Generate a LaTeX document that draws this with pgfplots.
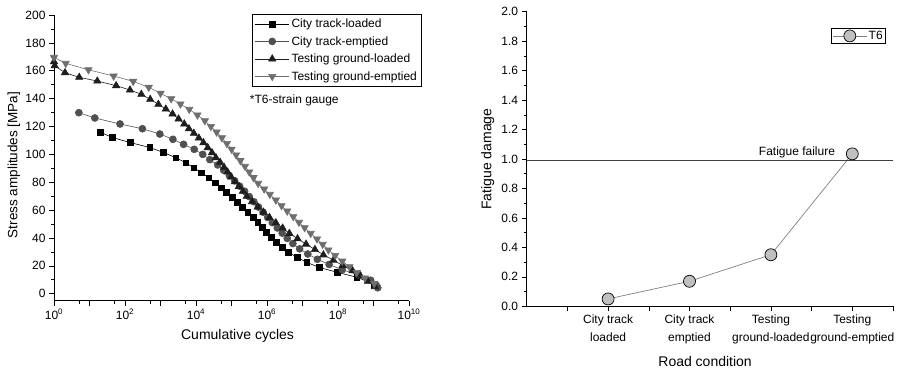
\documentclass[border=0pt]{standalone}
\usepackage{fontspec}
\setmainfont{Liberation Sans}
\usepackage{pgfplots}
\usepackage{pgfplotstable}
\pgfplotsset{compat=1.18}
\definecolor{cgray}{HTML}{505050}
\definecolor{tdark}{HTML}{1E1E1E}
\definecolor{tgray}{HTML}{6E6E6E}
\definecolor{mfill}{HTML}{C0C0C0}
\definecolor{lgray}{HTML}{808080}

% log10(cumulative cycles), stress amplitude [MPa]
\pgfplotstableread{
lx S
1.315 115.8
1.634 112.2
2.14 108.5
2.70 104.9
3.09 101.3
3.43 97.6
3.71 94.0
3.94 90.4
4.15 86.8
4.36 83.2
4.54 79.6
4.71 76.0
4.86 72.5
5.02 69.0
5.17 65.4
5.31 61.8
5.46 58.2
5.61 54.7
5.74 51.1
5.87 47.5
5.99 44.0
6.13 40.4
6.26 36.8
6.42 33.2
6.61 29.7
6.85 26.1
7.12 22.5
7.47 18.9
7.99 15.3
8.53 11.8
9.01 7.0
}\ctloaded
\pgfplotstableread{
lx S
0.70 129.9
1.15 126.1
1.86 121.8
2.49 118.4
2.98 114.6
3.35 110.8
3.65 107.2
3.95 103.6
4.19 100.0
4.39 96.2
4.61 92.4
4.78 88.6
4.94 84.7
5.09 81.0
5.23 77.2
5.37 73.5
5.50 69.7
5.63 66.0
5.76 62.2
5.89 58.5
6.02 54.7
6.15 51.0
6.29 47.2
6.43 43.5
6.57 39.7
6.73 36.0
6.92 32.2
7.15 28.5
7.42 24.7
7.75 21.0
8.12 17.2
8.58 13.5
8.92 9.7
9.08 6.0
9.12 4.3
}\ctemptied
\pgfplotstableread{
lx S
0.00 166.5
0.02 163.6
0.31 158.6
0.71 155.3
1.22 152.6
1.75 149.3
2.14 146.2
2.46 143.1
2.71 139.5
2.94 135.9
3.15 132.5
3.34 129.0
3.51 125.4
3.67 121.8
3.80 118.4
3.94 115.1
4.08 111.7
4.21 108.4
4.33 104.8
4.45 101.2
4.56 97.6
4.68 94.3
4.79 90.7
4.89 87.3
4.99 83.7
5.10 80.4
5.21 77.0
5.32 73.5
5.43 69.9
5.58 66.1
5.74 62.3
5.90 58.5
6.07 54.7
6.25 50.9
6.44 47.1
6.63 43.3
6.86 39.5
7.10 35.6
7.35 31.7
7.59 27.9
7.87 24.1
8.13 20.3
8.41 16.5
8.63 12.7
8.84 8.9
9.04 5.1
}\tgloaded
\pgfplotstableread{
lx S
0.00 169.6
0.33 165.3
0.97 160.7
1.68 156.2
2.23 152.4
2.67 148.1
3.00 143.8
3.30 139.9
3.56 136.1
3.81 132.3
4.04 128.2
4.25 124.1
4.42 120.0
4.58 116.0
4.73 111.9
4.87 107.8
5.00 103.7
5.13 99.6
5.25 95.5
5.38 91.4
5.50 87.4
5.62 83.3
5.75 79.2
5.92 75.1
6.08 71.3
6.25 67.2
6.41 63.2
6.57 59.3
6.74 55.3
6.90 51.2
7.06 47.4
7.23 43.3
7.41 39.3
7.57 35.4
7.73 31.4
7.92 27.5
8.12 23.4
8.32 19.4
8.53 15.3
8.76 11.3
9.02 7.3
}\tgemptied

\begin{document}
\begin{tikzpicture}
\path[use as bounding box] (0pt,0pt) rectangle (903pt,373pt);
\pgfplotsset{
 common/.style={
   scale only axis, axis lines=left,
   axis line style={-, line width=0.7pt},
   tick align=outside, major tick length=5pt, minor tick length=3pt,
   tick style={black, line width=0.6pt},
   tick label style={font=\fontsize{12}{14}\selectfont},
   /pgf/number format/assume math mode=true,
   clip=false,
   legend image code/.code={\draw[mark repeat=2,mark phase=2] plot coordinates {(0pt,0pt)(17pt,0pt)(34pt,0pt)};},
 },
}
\begin{axis}[common,
  at={(54pt,72.3pt)}, anchor=south west, width=355pt, height=285.7pt,
  xmin=0, xmax=10, ymin=-5, ymax=200,
  xtick={0,1,2,3,4,5,6,7,8,9,10},
  xticklabels={10\textsuperscript{0},,10\textsuperscript{2},,10\textsuperscript{4},,10\textsuperscript{6},,10\textsuperscript{8},,10\textsuperscript{10}},
  minor xtick={0.699,1.699,2.699,3.699,4.699,5.699,6.699,7.699,8.699,9.699},
  ytick={0,20,...,200}, minor ytick={10,30,...,190},
  xlabel={Cumulative cycles}, ylabel={Stress amplitudes [MPa]},
  every axis x label/.style={at={(axis description cs:0.517,-0.124)}, anchor=center, font=\fontsize{14}{16}\selectfont},
  every axis y label/.style={at={(axis description cs:-0.113,0.475)}, rotate=90, anchor=center, font=\fontsize{13.5}{16}\selectfont},
  legend style={at={(1.036,1.0035)}, anchor=north east, draw=black, line width=0.7pt,
     font=\fontsize{12}{14}\selectfont, cells={anchor=west}, row sep=3.3pt, inner sep=2.5pt},
]
\addplot[black, line width=0.6pt, mark=square*, mark size=2.9pt, mark options={fill=black}] table[x=lx,y=S] {\ctloaded};
\addlegendentry{City track-loaded}
\addplot[cgray, line width=0.6pt, mark=*, mark size=3.5pt, mark options={fill=cgray, draw=cgray}] table[x=lx,y=S] {\ctemptied};
\addlegendentry{City track-emptied}
\addplot[tdark, line width=0.6pt, mark=triangle*, mark size=4.2pt, mark options={fill=tdark, draw=tdark}] table[x=lx,y=S] {\tgloaded};
\addlegendentry{Testing ground-loaded}
\addplot[tgray, line width=0.6pt, mark=triangle*, mark size=4.2pt, mark options={fill=tgray, draw=tgray, rotate=180}] table[x=lx,y=S] {\tgemptied};
\addlegendentry{Testing ground-emptied}
\node[font=\fontsize{12}{14}\selectfont] at (axis description cs:0.677,0.700) {*T6-strain gauge};
\end{axis}

\begin{axis}[common,
  at={(526.7pt,66.7pt)}, anchor=south west, width=366.3pt, height=294.6pt,
  xmin=0, xmax=4.5, ymin=0, ymax=2.0,
  xtick={0.5,1,1.5,2,2.5,3,3.5,4,4.5},
  xticklabels={,{City track\\loaded},,{City track\\emptied},,{Testing\\ground-loaded},,{Testing\\ground-emptied},},
  xticklabel style={align=center, font=\fontsize{12}{18}\selectfont},
  ytick={0,0.2,...,2.01}, minor ytick={0.1,0.3,...,1.95},
  yticklabel style={/pgf/number format/.cd, fixed, fixed zerofill, precision=1},
  xlabel={Road condition}, ylabel={Fatigue damage},
  every axis x label/.style={at={(axis description cs:0.487,-0.188)}, anchor=center, font=\fontsize{14}{16}\selectfont},
  every axis y label/.style={at={(axis description cs:-0.106,0.5)}, rotate=90, anchor=center, font=\fontsize{14}{16}\selectfont},
  legend style={at={(0.981,0.946)}, anchor=north east, draw=black, line width=0.7pt,
     font=\fontsize{12}{14}\selectfont, inner sep=1.5pt, nodes={inner sep=1.5pt}},
]
\addplot[lgray, line width=0.7pt, mark=*, mark size=6pt, mark options={fill=mfill, draw=black, line width=0.7pt}] coordinates {(1,0.05) (2,0.17) (3,0.35) (4,1.035)};
\addlegendentry{T6}
\addplot[black!75, line width=0.9pt, forget plot] coordinates {(0,0.99) (4.5,0.99)};
\node[font=\fontsize{12}{14}\selectfont] at (axis cs:3.32,1.045) {Fatigue failure};
\end{axis}
\end{tikzpicture}
\end{document}
